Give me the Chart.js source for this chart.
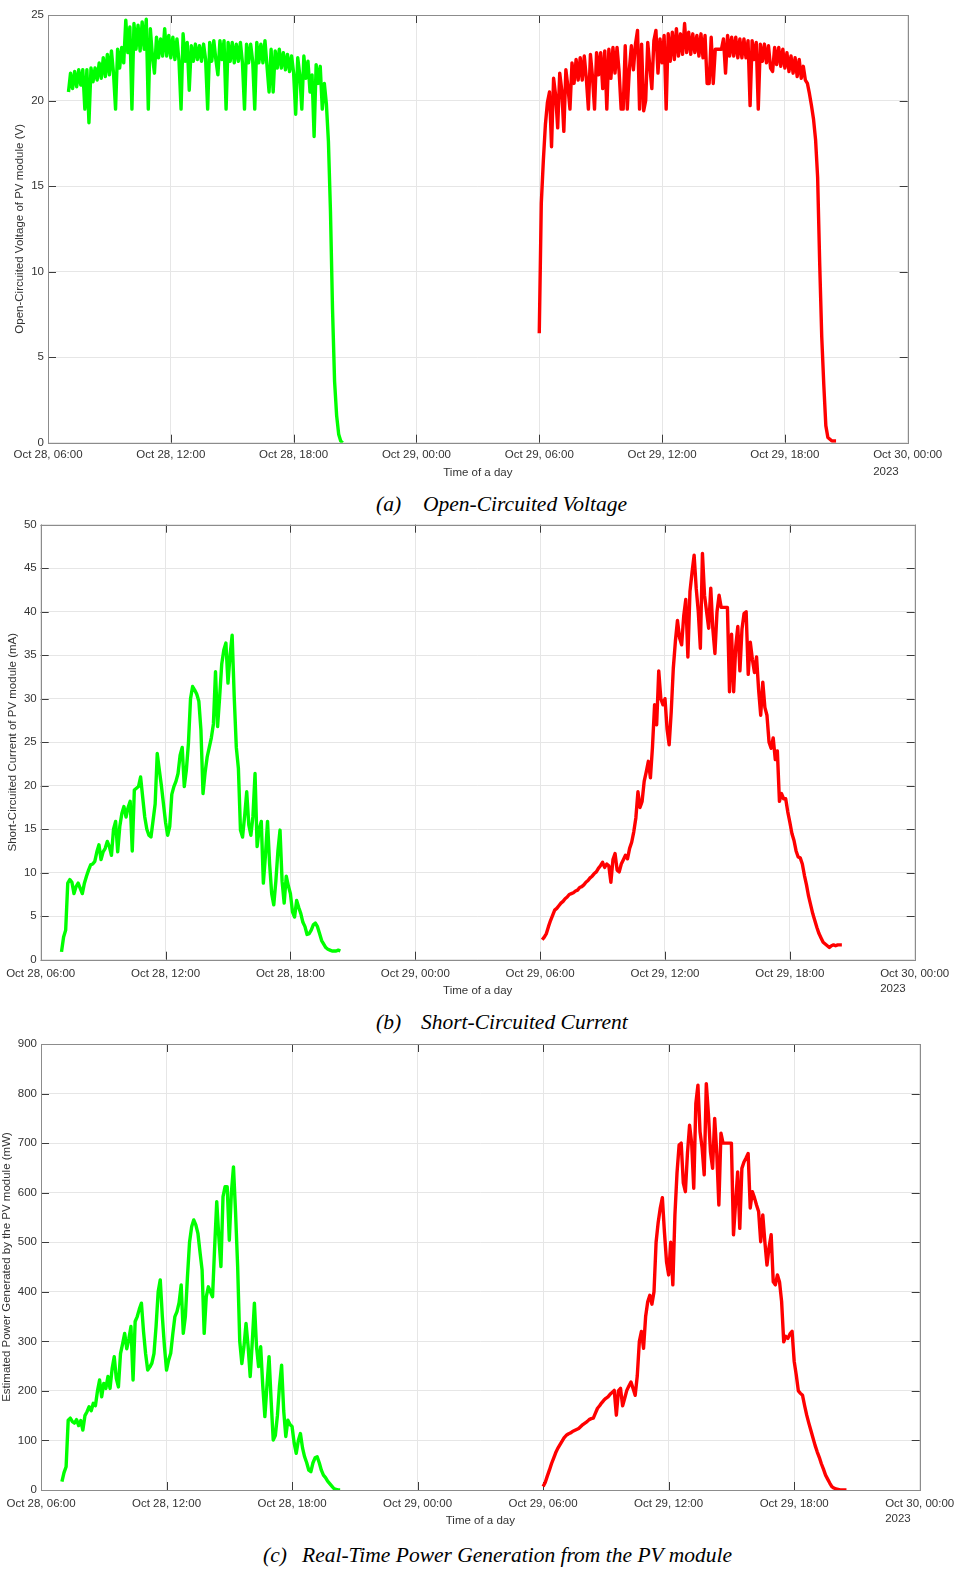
<!DOCTYPE html>
<html>
<head>
<meta charset="utf-8">
<title>PV module measurements</title>
<script src="https://cdn.jsdelivr.net/npm/chart.js@4.4.0/dist/chart.umd.min.js"></script>
<style>
  body { margin: 0; background: #fff; }
  #page { position: relative; width: 956px; height: 1570px; overflow: hidden; }
  canvas { position: absolute; left: 0; }
  .cap { position: absolute; font-family: "Liberation Serif", "Times New Roman", serif; font-style: italic;
         font-size: 21.5px; color: #000; white-space: pre; line-height: 24px; }
</style>
</head>
<body>
<div id="page">
  <canvas id="chartVoc" width="956" height="490" style="top:0px"></canvas>
  <span class="cap" style="left:376px; top:492px">(a)</span>
  <span class="cap" style="left:423px; top:492px">Open-Circuited Voltage</span>

  <canvas id="chartIsc" width="956" height="495" style="top:515px"></canvas>
  <span class="cap" style="left:376px; top:1010px">(b)</span>
  <span class="cap" style="left:421px; top:1010px">Short-Circuited Current</span>

  <canvas id="chartPow" width="956" height="500" style="top:1035px"></canvas>
  <span class="cap" style="left:263px; top:1543px">(c)</span>
  <span class="cap" style="left:302px; top:1543px">Real-Time Power Generation from the PV module</span>
</div>

<script>
// x values are hours counted from Oct 28, 00:00; samples every 6 minutes
const sampleStepH = 0.1;

const xTickHours = [6, 12, 18, 24, 30, 36, 42, 48];
const xTickLabels = ['Oct 28, 06:00', 'Oct 28, 12:00', 'Oct 28, 18:00', 'Oct 29, 00:00',
                     'Oct 29, 06:00', 'Oct 29, 12:00', 'Oct 29, 18:00', 'Oct 30, 00:00'];
const yearLabel = '2023';

// (a) open-circuited voltage, V
const vocDay1Start = 7.0;
const vocDay1 = [
  20.5, 21.6, 20.7, 21.7, 20.8, 21.8, 20.9, 21.8, 19.5, 21.8,
  18.7, 21.9, 21.1, 21.9, 21.2, 22.2, 21.3, 22.5, 21.4, 22.7,
  21.5, 22.9, 21.6, 19.5, 23.0, 21.9, 23.1, 22.2, 24.7, 22.8,
  24.3, 19.5, 24.5, 23.0, 24.4, 22.9, 24.6, 23.0, 24.75, 19.5,
  24.2, 22.6, 21.6, 23.7, 22.5, 23.6, 22.6, 24.2, 22.6, 23.8,
  22.5, 23.7, 22.4, 23.6, 22.3, 19.5, 23.9, 22.3, 23.4, 20.6,
  23.2, 22.3, 23.3, 22.4, 23.2, 22.3, 23.3, 22.4, 19.5, 23.4,
  22.3, 23.5, 22.4, 21.5, 23.5, 22.4, 23.5, 19.5, 23.4, 22.3,
  23.4, 22.2, 23.3, 22.3, 23.4, 22.2, 19.5, 23.3, 22.2, 23.3,
  22.3, 19.5, 23.4, 22.2, 23.3, 22.2, 23.5, 22.0, 20.5, 23.0,
  20.5, 22.9, 21.9, 23.0, 21.9, 22.8, 21.8, 22.7, 21.7, 22.6,
  21.6, 19.2, 22.5, 21.5, 19.5, 22.6, 21.3, 22.3, 20.5, 21.5,
  17.9, 22.1, 21.0, 22.0, 19.5, 21.0, 19.8, 17.6, 13.5, 7.8,
  3.6, 1.6, 0.5, 0.1, 0.0
];
const vocDay2Start = 30.0;
const vocDay2 = [
  6.4, 14.0, 16.5, 18.6, 19.9, 20.5, 17.3, 21.3, 20.3, 18.4,
  21.6, 20.6, 18.2, 21.8, 20.8, 19.5, 22.2, 21.0, 22.4, 21.2,
  22.5, 21.2, 22.6, 21.3, 19.5, 22.7, 21.4, 19.5, 22.8, 21.5,
  22.8, 20.7, 22.9, 19.5, 23.0, 21.3, 23.1, 21.6, 23.1, 21.7,
  19.5, 19.5, 23.2, 19.5, 21.8, 23.2, 21.8, 23.3, 24.1, 19.5,
  23.3, 19.4, 20.0, 23.4, 22.0, 20.7, 23.5, 24.1, 21.6, 23.6,
  22.2, 23.8, 19.5, 23.9, 22.3, 24.0, 22.4, 24.2, 22.6, 23.9,
  22.7, 24.5, 22.8, 24.0, 22.7, 23.9, 22.8, 23.8, 22.6, 23.9,
  22.5, 23.8, 21.0, 21.0, 23.7, 21.0, 23.0, 23.0, 23.0, 23.0,
  23.6, 21.6, 23.8, 22.6, 23.7, 22.6, 23.7, 22.5, 23.6, 22.5,
  23.6, 22.5, 23.5, 19.7, 23.5, 22.4, 23.4, 19.5, 23.3, 22.3,
  23.3, 22.2, 23.2, 21.9, 21.7, 23.1, 22.1, 23.1, 22.0, 23.0,
  21.9, 22.8, 21.7, 22.6, 21.6, 22.5, 21.4, 22.4, 21.3, 22.0,
  21.2, 21.0, 20.4, 19.7, 18.9, 17.7, 15.5, 10.5, 6.2, 3.4,
  1.0, 0.3, 0.2, 0.1, 0.1, 0.1
];

// (b) short-circuited current, mA
const iscDay1Start = 7.0;
const iscDay1 = [
  0.9, 2.6, 3.4, 8.8, 9.2, 8.9, 7.6, 8.4, 8.8, 8.2,
  7.6, 8.8, 9.6, 10.3, 10.9, 11.0, 11.3, 12.4, 13.2, 11.5,
  12.4, 12.8, 13.6, 13.0, 12.0, 15.0, 15.9, 12.4, 15.3, 16.8,
  17.6, 16.4, 17.5, 18.2, 12.5, 19.5, 19.7, 19.9, 21.0, 18.7,
  16.4, 15.0, 14.3, 14.1, 16.0, 17.9, 23.7, 21.8, 20.0, 17.9,
  15.8, 14.3, 15.3, 19.0, 19.9, 20.5, 21.4, 23.5, 24.4, 19.9,
  21.8, 24.9, 30.0, 31.4, 31.0, 30.5, 29.7, 26.4, 19.1, 21.5,
  23.3, 24.4, 25.5, 27.1, 33.1, 26.8, 30.2, 34.0, 35.6, 36.4,
  31.8, 35.0, 37.3, 30.2, 24.4, 22.0, 14.9, 14.1, 16.5, 19.3,
  15.5, 14.3, 16.5, 21.4, 13.0, 15.0, 15.9, 8.8, 12.0, 15.9,
  11.0, 7.6, 6.3, 9.0, 12.5, 14.9, 9.0, 6.5, 9.6, 8.5,
  7.6, 5.5, 4.9, 6.8, 6.0, 5.3, 4.3, 3.8, 2.9, 3.0,
  3.4, 4.0, 4.2, 3.8, 3.0, 2.2, 1.8, 1.4, 1.2, 1.1,
  1.0, 1.0, 1.0, 1.1, 1.0
];
const iscDay2Start = 30.1;
const iscDay2 = [
  2.3, 2.6, 3.0, 3.8, 4.5, 5.1, 5.7, 5.9, 6.2, 6.5,
  6.7, 7.0, 7.2, 7.5, 7.6, 7.7, 7.9, 8.0, 8.3, 8.4,
  8.6, 8.9, 9.1, 9.4, 9.6, 9.9, 10.1, 10.5, 10.8, 11.2,
  10.6, 11.0, 10.8, 8.9, 11.5, 12.2, 10.3, 10.1, 11.0, 11.5,
  12.0, 11.6, 12.8, 13.5, 14.7, 16.3, 19.3, 17.5, 18.2, 20.5,
  21.6, 22.8, 20.9, 24.5, 29.3, 27.0, 33.2, 30.0, 29.3, 30.0,
  26.5, 24.7, 28.5, 33.5, 36.6, 39.0, 37.0, 36.2, 39.5, 41.4,
  34.8, 42.3, 44.5, 46.5, 42.7, 40.0, 35.8, 46.7, 41.9, 40.0,
  38.1, 42.7, 38.0, 35.2, 40.0, 41.9, 40.5, 40.5, 40.5, 40.5,
  30.8, 37.4, 30.8, 36.0, 38.3, 33.2, 38.0, 39.8, 40.0, 32.8,
  36.5, 34.5, 33.0, 34.8, 31.0, 28.1, 31.9, 29.0, 28.1, 25.0,
  24.3, 25.5, 23.0, 24.0, 18.2, 19.1, 18.5, 18.5, 17.0, 15.8,
  14.5, 13.7, 12.5, 11.8, 11.7, 11.0, 9.7, 8.6, 7.3, 6.3,
  5.3, 4.5, 3.7, 3.0, 2.5, 2.0, 1.8, 1.6, 1.4, 1.6,
  1.7, 1.6, 1.7, 1.7, 1.7
];

// (c) estimated power, mW
const powDay1Start = 7.0;
const powDay1 = [
  17, 35, 47, 141, 145, 138, 135, 142, 130, 140,
  121, 150, 158, 168, 160, 175, 170, 200, 222, 188,
  215, 205, 229, 205, 245, 269, 225, 208, 275, 295,
  316, 285, 305, 330, 222, 340, 350, 365, 377, 320,
  275, 242, 248, 256, 275, 330, 400, 424, 350, 290,
  242, 262, 276, 315, 350, 360, 378, 414, 316, 350,
  430, 500, 531, 545, 535, 518, 480, 444, 316, 390,
  410, 400, 390, 490, 582, 510, 451, 592, 612, 612,
  504, 600, 652, 560, 450, 300, 255, 289, 336, 290,
  229, 300, 377, 290, 249, 289, 210, 148, 210, 269,
  180, 101, 110, 150, 210, 252, 160, 108, 141, 132,
  128, 95, 74, 100, 114, 85, 67, 55, 40, 37,
  55, 65, 67, 55, 40, 30, 25, 18, 13, 8,
  3, 1, 0, 0
];
const powDay2Start = 30.0;
const powDay2 = [
  7, 15, 28, 40, 53, 64, 75, 84, 91, 98,
  105, 110, 113, 115, 118, 120, 122, 124, 128, 132,
  135, 138, 142, 144, 145, 155, 165, 170, 176, 181,
  185, 188, 193, 197, 201, 151, 200, 205, 170, 185,
  201, 210, 218, 205, 191, 230, 300, 320, 286, 350,
  380, 393, 375, 400, 500, 540, 569, 590, 520, 460,
  434, 500, 414, 555, 640, 696, 700, 620, 602, 680,
  736, 700, 609, 780, 817, 723, 690, 636, 820, 760,
  682, 649, 750, 680, 575, 720, 700, 700, 700, 700,
  700, 515, 580, 642, 528, 649, 662, 670, 679, 569,
  602, 590, 575, 562, 501, 555, 500, 454, 490, 515,
  420, 414, 434, 420, 380, 299, 310, 306, 315, 320,
  260, 232, 200, 195, 191, 170, 151, 135, 120, 105,
  90, 77, 66, 53, 42, 30, 22, 14, 7, 4,
  2, 1, 0, 0, 0, 0
];

const FONT = '"Liberation Sans", Arial, Helvetica, sans-serif';
const TICK_LEN = 8;
const GREEN = '#00ff00';
const RED = '#ff0000';

function series(start, values) {
  return values.map((v, i) => ({ x: +(start + i * sampleStepH).toFixed(2), y: v }));
}

// MATLAB-like box: inward tick marks on all four sides, grey frame, year under the last tick
const matlabAxes = {
  id: 'matlabAxes',
  beforeDatasetsDraw(chart) {
    const { ctx, chartArea: a } = chart;
    const xs = chart.scales.x, ys = chart.scales.y;
    ctx.save();
    ctx.lineWidth = 1;
    ctx.strokeStyle = '#3c3c3c';
    ctx.beginPath();
    xs.ticks.forEach(t => {
      const p = Math.round(xs.getPixelForValue(t.value)) + 0.5;
      ctx.moveTo(p, a.bottom); ctx.lineTo(p, a.bottom - TICK_LEN);
      ctx.moveTo(p, a.top); ctx.lineTo(p, a.top + TICK_LEN);
    });
    ys.ticks.forEach(t => {
      const p = Math.round(ys.getPixelForValue(t.value)) + 0.5;
      ctx.moveTo(a.left, p); ctx.lineTo(a.left + TICK_LEN, p);
      ctx.moveTo(a.right, p); ctx.lineTo(a.right - TICK_LEN, p);
    });
    ctx.stroke();
    ctx.strokeStyle = '#8c8c8c';
    const l = Math.round(a.left) + 0.5, t = Math.round(a.top) + 0.5;
    ctx.strokeRect(l, t, Math.round(a.right) - Math.round(a.left), Math.round(a.bottom) - Math.round(a.top));
    ctx.restore();
  },
  afterDraw(chart, args, opts) {
    const { ctx, chartArea: a } = chart;
    const xs = chart.scales.x;
    const lastLabel = xTickLabels[xTickLabels.length - 1];
    ctx.save();
    ctx.font = '11.5px ' + FONT;
    const w = ctx.measureText(lastLabel).width;
    ctx.fillStyle = '#333';
    ctx.textBaseline = 'middle';
    ctx.textAlign = 'left';
    ctx.fillText(yearLabel, xs.getPixelForValue(xTickHours[xTickHours.length - 1]) - w / 2, a.bottom + opts.yearOffset);
    ctx.restore();
  }
};

function makeChart(id, p) {
  const ctx = document.getElementById(id).getContext('2d');
  return new Chart(ctx, {
    type: 'line',
    data: {
      datasets: [
        { data: p.day1, borderColor: GREEN, borderWidth: 3.4, pointRadius: 0, tension: 0, borderJoinStyle: 'round' },
        { data: p.day2, borderColor: RED, borderWidth: 3.4, pointRadius: 0, tension: 0, borderJoinStyle: 'round' }
      ]
    },
    options: {
      responsive: false,
      animation: false,
      events: [],
      layout: { padding: { top: p.top, right: p.right, left: 0, bottom: 0 } },
      plugins: {
        legend: { display: false },
        tooltip: { enabled: false },
        matlabAxes: { yearOffset: 29.3 }
      },
      scales: {
        x: {
          type: 'linear',
          min: 6, max: 48,
          afterBuildTicks: s => { s.ticks = xTickHours.map(v => ({ value: v })); },
          afterFit: s => { s.height = p.xHeight; s.paddingLeft = 0; s.paddingRight = 0; },
          grid: { color: '#e6e6e6', drawTicks: false },
          border: { display: false },
          ticks: {
            autoSkip: false, maxRotation: 0, padding: p.xLabelPad,
            color: '#333', font: { family: FONT, size: 11.5 },
            callback: v => xTickLabels[xTickHours.indexOf(v)]
          },
          title: {
            display: true, text: 'Time of a day', color: '#333',
            font: { family: FONT, size: 11.5 }, padding: { top: 0, bottom: p.xTitlePad }
          }
        },
        y: {
          min: 0, max: p.yMax,
          afterFit: s => { s.width = p.left; s.paddingTop = 0; s.paddingBottom = 0; },
          grid: { color: '#e6e6e6', drawTicks: false },
          border: { display: false },
          ticks: { stepSize: p.yStep, padding: 4, color: '#333', font: { family: FONT, size: 11.5 } },
          title: {
            display: true, text: p.yTitle, color: '#333',
            font: { family: FONT, size: 11.5 }, padding: { top: p.yTitlePad, bottom: 0 }
          }
        }
      }
    },
    plugins: [matlabAxes]
  });
}

makeChart('chartVoc', {
  day1: series(vocDay1Start, vocDay1), day2: series(vocDay2Start, vocDay2),
  left: 48, right: 48.3, top: 15, xHeight: 47.3,
  yMax: 25, yStep: 5, yTitle: 'Open-Circuited Voltage of PV module (V)', yTitlePad: 12.6,
  xLabelPad: 5.7, xTitlePad: 10.4
});

makeChart('chartIsc', {
  day1: series(iscDay1Start, iscDay1), day2: series(iscDay2Start, iscDay2),
  left: 40.7, right: 41.3, top: 9.7, xHeight: 50.3,
  yMax: 50, yStep: 5, yTitle: 'Short-Circuited Current of PV module (mA)', yTitlePad: 5.6,
  xLabelPad: 7, xTitlePad: 12.1
});

makeChart('chartPow', {
  day1: series(powDay1Start, powDay1), day2: series(powDay2Start, powDay2),
  left: 41, right: 36.3, top: 9, xHeight: 45,
  yMax: 900, yStep: 100, yTitle: 'Estimated Power Generated by the PV module (mW)', yTitlePad: 0.3,
  xLabelPad: 6.5, xTitlePad: 7.1
});
</script>
</body>
</html>
